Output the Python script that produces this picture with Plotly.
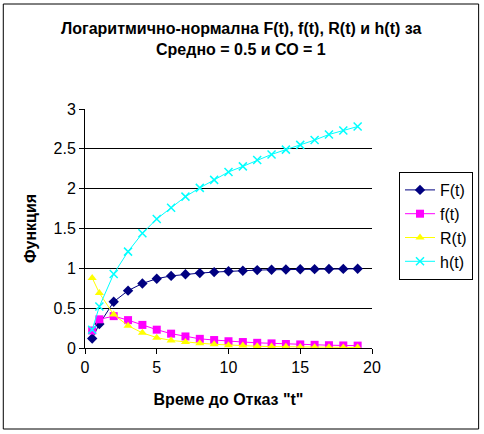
import plotly.graph_objects as go

t = [0.5, 1, 2, 3, 4, 5, 6, 7, 8, 9, 10, 11, 12, 13, 14, 15, 16, 17, 18, 19]
F = [0.12, 0.30, 0.58, 0.72, 0.81, 0.87, 0.905, 0.925, 0.94, 0.953, 0.964, 0.97, 0.978, 0.982, 0.985, 0.988, 0.99, 0.992, 0.993, 0.994]
f = [0.22, 0.36, 0.40, 0.35, 0.29, 0.23, 0.18, 0.145, 0.115, 0.10, 0.085, 0.075, 0.065, 0.058, 0.05, 0.045, 0.04, 0.035, 0.032, 0.03]
R = [0.88, 0.69, 0.42, 0.28, 0.19, 0.13, 0.095, 0.075, 0.06, 0.047, 0.036, 0.03, 0.022, 0.018, 0.015, 0.012, 0.01, 0.008, 0.007, 0.006]
h = [0.23, 0.52, 0.93, 1.21, 1.44, 1.62, 1.76, 1.90, 2.01, 2.11, 2.21, 2.28, 2.36, 2.43, 2.49, 2.55, 2.61, 2.68, 2.73, 2.78]

names = ["F(t)", "f(t)", "R(t)", "h(t)"]
series = [F, f, R, h]
colors = ["#000080", "#FF00FF", "#FFFF00", "#00FFFF"]
symbols = ["diamond", "square", "triangle-up", "x-thin"]

title_lines = ["Логаритмично-нормална F(t), f(t), R(t) и h(t) за", "Средно = 0.5 и СО = 1"]

fig = go.Figure()
for name, ys, c, s in zip(names, series, colors, symbols):
    marker = dict(color=c, size=8, symbol=s)
    if s == "x-thin":
        marker = dict(color=c, size=8, symbol=s, line=dict(color=c, width=1.5))
    fig.add_trace(go.Scatter(x=t, y=ys, name=name, mode="lines+markers",
                             line=dict(color=c, width=1), marker=marker))

W, H = 484, 434
L, Rm, T, B = 85, 111, 109, 86
pw, ph = W - L - Rm, H - T - B

fig.update_layout(
    width=W, height=H,
    margin=dict(l=L, r=Rm, t=T, b=B),
    paper_bgcolor="white", plot_bgcolor="white",
    font=dict(family="Liberation Sans, Arial", size=16, color="black"),
    xaxis=dict(range=[0, 20], dtick=5, showgrid=False, showline=True, linecolor="black",
               linewidth=1, ticks="outside", ticklen=5, tickcolor="black", zeroline=False,
               tickfont=dict(size=16),
               title=dict(text="<b>Време до Отказ \"t\"</b>", font=dict(size=16), standoff=18)),
    yaxis=dict(range=[0, 3], dtick=0.5, showgrid=True, gridcolor="black", gridwidth=1,
               showline=True, linecolor="black", linewidth=1, ticks="outside", ticklen=5,
               tickcolor="black", zeroline=False, tickfont=dict(size=16),
               title=dict(text="<b>Функция</b>", font=dict(size=16), standoff=12)),
    legend=dict(x=(399 - L) / pw, y=(H - B - 172) / ph, xanchor="left", yanchor="top",
                bordercolor="black", borderwidth=1, bgcolor="white",
                font=dict(size=16), tracegroupgap=0, itemwidth=30),
    showlegend=True,
)

for line, yc in zip(title_lines, [28, 50]):
    fig.add_annotation(text="<b>" + line + "</b>", xref="paper", yref="paper",
                       x=(242 - L) / pw, y=(H - B - yc) / ph, xanchor="center", yanchor="middle",
                       showarrow=False, font=dict(size=16, family="Liberation Sans, Arial"))

fig.add_shape(type="rect", xref="paper", yref="paper",
              x0=(3 - L) / pw, x1=(480 - L) / pw,
              y0=(H - B - 429) / ph, y1=(H - B - 4) / ph,
              line=dict(color="black", width=1), fillcolor="rgba(0,0,0,0)", layer="below")

fig.write_html("out.html")
